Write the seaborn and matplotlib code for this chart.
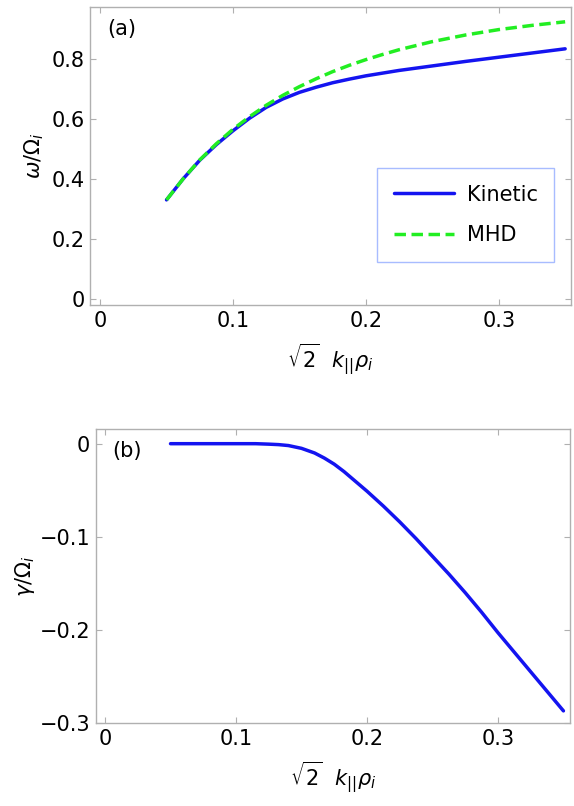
import matplotlib
matplotlib.use("Agg")
import matplotlib.pyplot as plt
import pandas as pd
import seaborn as sns

# Values
k_top = [0.05, 0.0625, 0.075, 0.0875, 0.1, 0.1125, 0.125, 0.1375, 0.15, 0.1625,
         0.175, 0.1875, 0.2, 0.2125, 0.225, 0.25, 0.275, 0.3, 0.325, 0.35]
omega_kinetic = [0.330, 0.400, 0.462, 0.514, 0.560, 0.602, 0.638, 0.666, 0.688, 0.705,
                 0.720, 0.732, 0.743, 0.752, 0.761, 0.776, 0.791, 0.805, 0.819, 0.833]
omega_mhd = [0.330, 0.400, 0.463, 0.517, 0.565, 0.607, 0.645, 0.678, 0.707, 0.733,
             0.757, 0.778, 0.797, 0.814, 0.830, 0.857, 0.879, 0.897, 0.911, 0.923]

k_bot = [0.05, 0.075, 0.1, 0.115, 0.125, 0.1325, 0.14, 0.145, 0.15, 0.155, 0.16,
         0.1675, 0.175, 0.1825, 0.19, 0.2, 0.2125, 0.225, 0.2375, 0.25, 0.2625,
         0.275, 0.2875, 0.3, 0.3125, 0.325, 0.3375, 0.35]
gamma_kinetic = [0.0, 0.0, 0.0, 0.0, -0.0005, -0.001, -0.002, -0.0035, -0.005, -0.0075,
                 -0.010, -0.0155, -0.022, -0.030, -0.039, -0.051, -0.067, -0.084,
                 -0.102, -0.121, -0.140, -0.160, -0.181, -0.203, -0.224, -0.245,
                 -0.266, -0.287]

x_ticks = [0, 0.1, 0.2, 0.3]
top_yticks = [0, 0.2, 0.4, 0.6, 0.8]
bot_yticks = [0, -0.1, -0.2, -0.3]

sns.set_style("ticks")
plt.rcParams["font.family"] = ["DejaVu Sans"]
plt.rcParams["mathtext.fontset"] = "dejavusans"
plt.rcParams["text.color"] = "black"
plt.rcParams["axes.labelcolor"] = "black"
plt.rcParams["xtick.labelcolor"] = "black"
plt.rcParams["ytick.labelcolor"] = "black"

blue = "#1414f0"
green = "#22ee22"
spine_grey = "#b0b0b0"
fs = 15

df_top = pd.DataFrame({
    "k": k_top * 2,
    "omega": omega_kinetic + omega_mhd,
    "model": ["Kinetic"] * len(k_top) + ["MHD"] * len(k_top),
})
df_bot = pd.DataFrame({"k": k_bot, "gamma": gamma_kinetic})

fig = plt.figure(figsize=(5.74, 8.06), dpi=100)
ax1 = fig.add_axes([0.157, 0.6216, 0.838, 0.370])
ax2 = fig.add_axes([0.167, 0.103, 0.826, 0.365])

sns.lineplot(data=df_top, x="k", y="omega", hue="model", style="model",
             palette={"Kinetic": blue, "MHD": green},
             dashes={"Kinetic": "", "MHD": (3.3, 1.6)},
             linewidth=2.5, ax=ax1)
sns.lineplot(data=df_bot, x="k", y="gamma", color=blue, linewidth=2.5, ax=ax2)

xlabel = r"$\sqrt{2}\ \ k_{||}\rho_i$"
for ax, yt in [(ax1, top_yticks), (ax2, bot_yticks)]:
    ax.set_xticks(x_ticks)
    ax.set_xticklabels(["0", "0.1", "0.2", "0.3"])
    ax.set_yticks(yt)
    ax.set_yticklabels([("%g" % v).replace("-", "\u2212") for v in yt])
    for s in ax.spines.values():
        s.set_visible(True)
        s.set_color(spine_grey)
        s.set_linewidth(1.0)
    ax.tick_params(direction="in", length=4, width=0.8, color=spine_grey,
                   labelcolor="black", labelsize=fs, top=True, right=True, pad=4)
    ax.set_xlabel(xlabel, fontsize=fs, labelpad=8, color="black")

ax1.set_xlim(-0.0075, 0.3545)
ax1.set_ylim(-0.02, 0.973)
ax2.set_xlim(-0.007, 0.355)
ax2.set_ylim(-0.3, 0.016)

ax1.set_ylabel(r"$\omega/\Omega_i$", fontsize=fs, labelpad=4, color="black")
ax2.set_ylabel(r"$\gamma/\Omega_i$", fontsize=fs, labelpad=2, color="black")

ax1.text(0.035, 0.925, "(a)", transform=ax1.transAxes, fontsize=fs,
         va="center", ha="left", color="black")
ax2.text(0.035, 0.925, "(b)", transform=ax2.transAxes, fontsize=fs,
         va="center", ha="left", color="black")

leg = ax1.legend(loc="lower right", bbox_to_anchor=(0.965, 0.144),
                 borderaxespad=0, fontsize=fs, handlelength=2.9,
                 handletextpad=0.6, labelspacing=1.0, borderpad=0.8,
                 fancybox=False, framealpha=1)
leg.set_title(None)
leg.get_frame().set_edgecolor("#a8bcff")
leg.get_frame().set_linewidth(1.0)
for t in leg.get_texts():
    t.set_color("black")

fig.savefig("out.png", dpi=100)
